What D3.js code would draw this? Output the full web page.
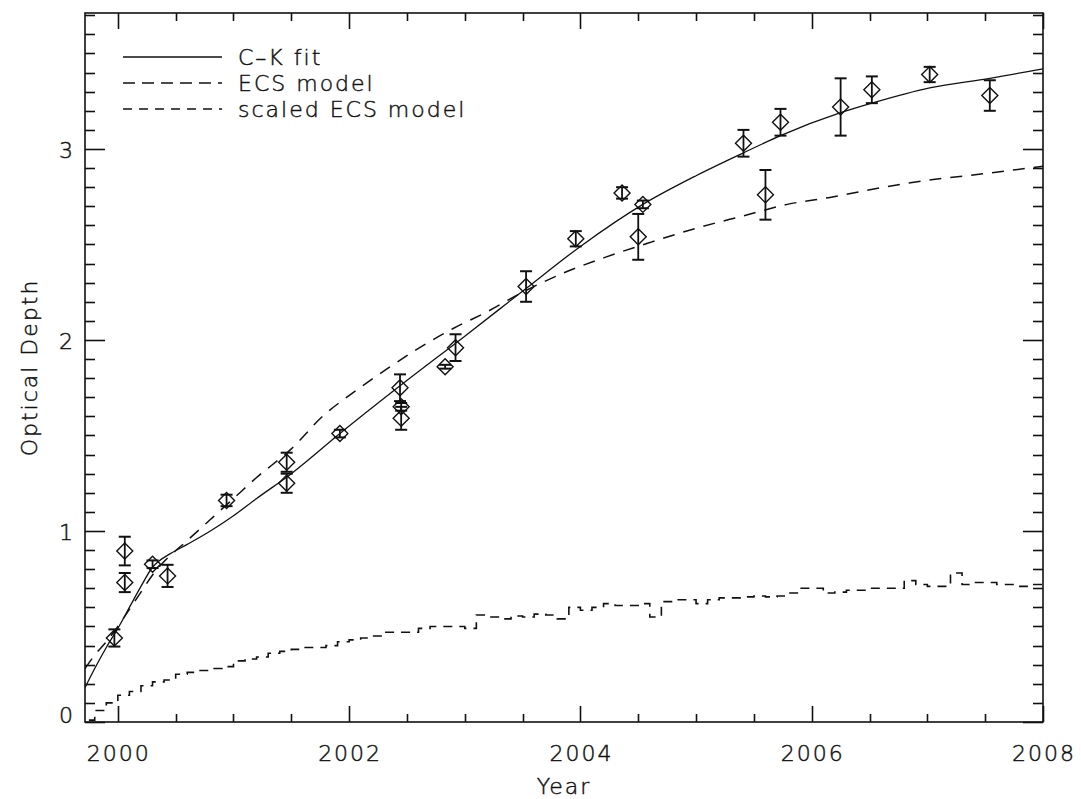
<!DOCTYPE html>
<html>
<head>
<meta charset="utf-8">
<script src="https://cdn.jsdelivr.net/npm/d3@7"></script>
<style>
  html, body { margin: 0; padding: 0; background: #fff; }
  svg { display: block; }
  text { font-family: "DejaVu Sans", "Liberation Sans", sans-serif; fill: #111; stroke: #111; stroke-width: 0.45px; font-weight: 300; letter-spacing: 2px; }
</style>
</head>
<body>
<svg id="chart" width="1081" height="799"></svg>
<script>
// ---------------- data ----------------
const obsYear  = [1999.97, 2000.06, 2000.06, 2000.30, 2000.43, 2000.94, 2001.46, 2001.46, 2001.92, 2002.44, 2002.45, 2002.45, 2002.83, 2002.92, 2003.53, 2003.96, 2004.36, 2004.50, 2004.54, 2005.41, 2005.60, 2005.73, 2006.25, 2006.52, 2007.02, 2007.54];
const obsValue = [0.44, 0.73, 0.895, 0.826, 0.765, 1.16, 1.36, 1.25, 1.51, 1.75, 1.65, 1.59, 1.86, 1.96, 2.28, 2.53, 2.77, 2.54, 2.71, 3.03, 2.76, 3.14, 3.22, 3.31, 3.39, 3.28];
const obsError = [0.045, 0.05, 0.075, 0.02, 0.058, 0.03, 0.05, 0.05, 0.02, 0.07, 0.02, 0.06, 0.01, 0.07, 0.08, 0.04, 0.03, 0.12, 0.02, 0.07, 0.13, 0.07, 0.15, 0.07, 0.04, 0.08];

const ckYear  = [1999.716, 1999.8, 1999.9, 2000.0, 2000.1, 2000.2, 2000.3, 2000.35, 2000.45, 2000.6, 2000.8, 2001.0, 2001.2, 2001.5, 2001.92, 2002.44, 2003.0, 2003.53, 2004.0, 2004.54, 2005.0, 2005.41, 2005.73, 2006.25, 2006.52, 2007.02, 2007.54, 2008.0];
const ckValue = [0.18, 0.28, 0.39, 0.49, 0.60, 0.71, 0.81, 0.84, 0.88, 0.93, 1.00, 1.08, 1.17, 1.30, 1.51, 1.76, 2.02, 2.27, 2.49, 2.71, 2.86, 2.98, 3.07, 3.19, 3.24, 3.32, 3.37, 3.42];

const ecsYear  = [1999.716, 1999.8, 1999.9, 2000.0, 2000.1, 2000.2, 2000.3, 2000.4, 2000.6, 2000.8, 2001.0, 2001.2, 2001.5, 2001.77, 2002.07, 2002.33, 2002.61, 2002.9, 2003.2, 2003.5, 2003.85, 2004.2, 2004.6, 2005.03, 2005.41, 2005.79, 2006.19, 2006.62, 2007.05, 2007.48, 2008.0];
const ecsValue = [0.28, 0.35, 0.42, 0.50, 0.59, 0.68, 0.77, 0.84, 0.95, 1.06, 1.17, 1.28, 1.43, 1.60, 1.74, 1.85, 1.96, 2.06, 2.15, 2.25, 2.35, 2.43, 2.51, 2.59, 2.65, 2.71, 2.75, 2.80, 2.84, 2.87, 2.91];

const scaledYear  = [1999.75, 1999.85, 1999.95, 2000.05, 2000.15, 2000.25, 2000.35, 2000.45, 2000.55, 2000.65, 2000.75, 2000.85, 2000.95, 2001.05, 2001.15, 2001.25, 2001.35, 2001.45, 2001.55, 2001.65, 2001.75, 2001.85, 2001.95, 2002.05, 2002.15, 2002.25, 2002.35, 2002.45, 2002.55, 2002.65, 2002.75, 2002.85, 2002.95, 2003.05, 2003.15, 2003.25, 2003.35, 2003.45, 2003.55, 2003.65, 2003.75, 2003.85, 2003.95, 2004.05, 2004.15, 2004.25, 2004.35, 2004.45, 2004.55, 2004.65, 2004.75, 2004.85, 2004.95, 2005.05, 2005.15, 2005.25, 2005.35, 2005.45, 2005.55, 2005.65, 2005.75, 2005.85, 2005.95, 2006.05, 2006.15, 2006.25, 2006.35, 2006.45, 2006.55, 2006.65, 2006.75, 2006.85, 2006.95, 2007.05, 2007.15, 2007.25, 2007.35, 2007.45, 2007.55, 2007.65, 2007.75, 2007.85, 2007.95, 2008.0];
const scaledValue = [0.01, 0.06, 0.10, 0.14, 0.16, 0.19, 0.21, 0.22, 0.25, 0.26, 0.27, 0.28, 0.29, 0.32, 0.33, 0.34, 0.36, 0.37, 0.38, 0.39, 0.39, 0.40, 0.42, 0.43, 0.44, 0.45, 0.47, 0.47, 0.47, 0.49, 0.50, 0.50, 0.50, 0.49, 0.56, 0.55, 0.54, 0.555, 0.55, 0.565, 0.56, 0.54, 0.60, 0.585, 0.60, 0.62, 0.61, 0.61, 0.62, 0.55, 0.63, 0.64, 0.64, 0.62, 0.64, 0.65, 0.65, 0.655, 0.66, 0.655, 0.66, 0.675, 0.70, 0.70, 0.675, 0.68, 0.69, 0.69, 0.70, 0.70, 0.70, 0.74, 0.72, 0.71, 0.71, 0.78, 0.72, 0.73, 0.73, 0.72, 0.72, 0.71, 0.72, 0.72];

const xTickMajor = [2000, 2002, 2004, 2006, 2008];
const yTickMajor = [0, 1, 2, 3];
const legendLabels = ["C\u2013K fit", "ECS model", "scaled ECS model"];

// ---------------- layout ----------------
const svg = d3.select("#chart");
const L = 85, R = 1043, T = 13, B = 722;
const x = d3.scaleLinear().domain([1999.716, 2008]).range([L, R]);
const y = d3.scaleLinear().domain([0, 3.712]).range([B, T]);

const ink = "#111";
const g = svg.append("g");

svg.append("clipPath").attr("id", "clip")
  .append("rect").attr("x", L).attr("y", T).attr("width", R - L).attr("height", B - T);

// frame
g.append("rect").attr("x", L).attr("y", T).attr("width", R - L).attr("height", B - T)
  .attr("fill", "none").attr("stroke", ink).attr("stroke-width", 1.6);

// ticks (inward, on all four sides)
const xMinor = d3.range(2000, 2008.01, 0.5);
const yMinor = d3.range(0, 3.71, 0.1);
xMinor.forEach(v => {
  const major = xTickMajor.some(m => Math.abs(m - v) < 1e-6);
  const len = major ? 16 : 8;
  const px = Math.round(x(v)) + 0.5;
  g.append("line").attr("x1", px).attr("x2", px).attr("y1", B).attr("y2", B - len).attr("stroke", ink).attr("stroke-width", 1.6);
  g.append("line").attr("x1", px).attr("x2", px).attr("y1", T).attr("y2", T + len).attr("stroke", ink).attr("stroke-width", 1.6);
});
yMinor.forEach(v => {
  const major = yTickMajor.some(m => Math.abs(m - v) < 1e-6);
  const len = major ? 20 : 10;
  const py = Math.round(y(v)) + 0.5;
  g.append("line").attr("x1", L).attr("x2", L + len).attr("y1", py).attr("y2", py).attr("stroke", ink).attr("stroke-width", 1.6);
  g.append("line").attr("x1", R).attr("x2", R - len).attr("y1", py).attr("y2", py).attr("stroke", ink).attr("stroke-width", 1.6);
});

// tick labels
const fs = 22;
xTickMajor.forEach(v => {
  g.append("text").attr("x", x(v) + 1).attr("y", 761).attr("text-anchor", "middle")
    .attr("font-size", fs).text(v);
});
yTickMajor.forEach(v => {
  g.append("text").attr("x", 75).attr("y", Math.min(y(v) + 9, B + 1)).attr("text-anchor", "end")
    .attr("font-size", fs).text(v);
});

// axis titles
g.append("text").attr("x", (L + R) / 2).attr("y", 794).attr("text-anchor", "middle")
  .attr("font-size", fs).text("Year");
g.append("text").attr("transform", `translate(37,${(T + B) / 2}) rotate(-90)`)
  .attr("text-anchor", "middle").attr("font-size", fs).text("Optical Depth");

// curves
const plot = g.append("g").attr("clip-path", "url(#clip)");
const ckData = ckYear.map((t, i) => [t, ckValue[i]]);
const ecsData = ecsYear.map((t, i) => [t, ecsValue[i]]);
const scData = scaledYear.map((t, i) => [t, scaledValue[i]]);

plot.append("path").datum(ckData)
  .attr("d", d3.line().x(d => x(d[0])).y(d => y(d[1])).curve(d3.curveMonotoneX))
  .attr("fill", "none").attr("stroke", ink).attr("stroke-width", 1.3);
plot.append("path").datum(ecsData)
  .attr("d", d3.line().x(d => x(d[0])).y(d => y(d[1])).curve(d3.curveMonotoneX))
  .attr("fill", "none").attr("stroke", ink).attr("stroke-width", 1.5).attr("stroke-dasharray", "12,9");
plot.append("path").datum(scData)
  .attr("d", d3.line().x(d => x(d[0])).y(d => y(d[1])).curve(d3.curveStep))
  .attr("fill", "none").attr("stroke", ink).attr("stroke-width", 1.6).attr("stroke-dasharray", "9,7");

// data points with error bars
const pts = obsYear.map((t, i) => ({t, v: obsValue[i], e: obsError[i]}));
const pg = plot.append("g");
pts.forEach(p => {
  const cx = x(p.t), cy = y(p.v), y0 = y(p.v - p.e), y1 = y(p.v + p.e);
  pg.append("line").attr("x1", cx).attr("x2", cx).attr("y1", y0).attr("y2", y1).attr("stroke", ink).attr("stroke-width", 1.8);
  [y0, y1].forEach(yy => pg.append("line").attr("x1", cx - 6).attr("x2", cx + 6).attr("y1", yy).attr("y2", yy).attr("stroke", ink).attr("stroke-width", 2));
  const s = 8;
  pg.append("path").attr("d", `M${cx - s},${cy}L${cx},${cy - s}L${cx + s},${cy}L${cx},${cy + s}Z`)
    .attr("fill", "none").attr("stroke", ink).attr("stroke-width", 1.4);
});

// legend
const legY = [57, 83, 109];
const legDash = [null, "12,7", "9,7"];
legendLabels.forEach((lab, i) => {
  const l = g.append("line").attr("x1", 123).attr("x2", 222).attr("y1", legY[i]).attr("y2", legY[i])
    .attr("stroke", ink).attr("stroke-width", 1.5);
  if (legDash[i]) l.attr("stroke-dasharray", legDash[i]);
  g.append("text").attr("x", 238).attr("y", legY[i] + 8).attr("font-size", fs).text(lab);
});
</script>
</body>
</html>
